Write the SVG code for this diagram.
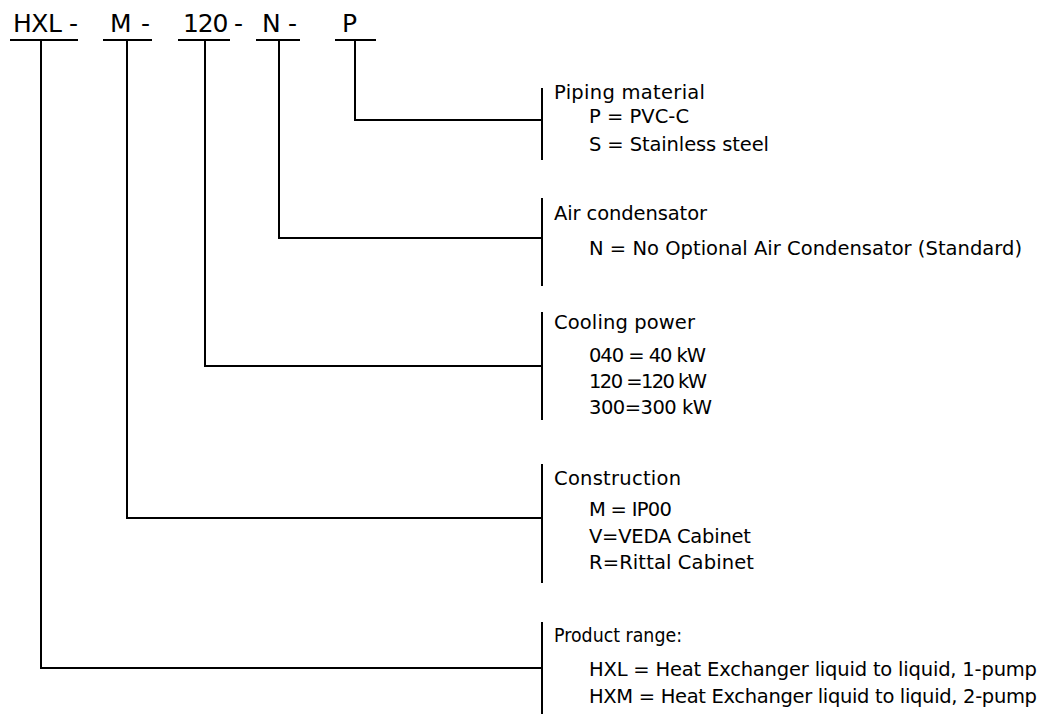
<svg xmlns="http://www.w3.org/2000/svg" width="1053" height="716" viewBox="0 0 1053 716">
<style>
.ln{stroke:#000;stroke-width:2;fill:none;stroke-linecap:butt}
.hd{font-family:"DejaVu Sans","Liberation Sans",sans-serif;font-size:25px;fill:#000}
.tx{font-family:"DejaVu Sans","Liberation Sans",sans-serif;font-size:19.5px;fill:#000}
</style>
<rect width="1053" height="716" fill="#fff"/>
<g id="code-hxl"><text class="hd" x="13" y="32" textLength="65">HXL -</text><line class="ln" x1="10" y1="40" x2="78" y2="40"/></g>
<g id="code-m"><text class="hd" x="110" y="32" textLength="40">M -</text><line class="ln" x1="103" y1="40" x2="152" y2="40"/></g>
<g id="code-120"><text class="hd" x="183" y="32" textLength="60">120 -</text><line class="ln" x1="178" y1="40" x2="230" y2="40"/></g>
<g id="code-n"><text class="hd" x="262" y="32" textLength="35">N -</text><line class="ln" x1="256" y1="40" x2="300" y2="40"/></g>
<g id="code-p"><text class="hd" x="342" y="32">P</text><line class="ln" x1="335" y1="40" x2="376" y2="40"/></g>
<g id="connectors">
<polyline class="ln" points="355,40 355,120 542,120"/>
<polyline class="ln" points="279,40 279,238 542,238"/>
<polyline class="ln" points="205,40 205,366 542,366"/>
<polyline class="ln" points="127,40 127,518 542,518"/>
<polyline class="ln" points="41,40 41,668 542,668"/>
</g>
<g id="piping">
<line class="ln" x1="542" y1="88" x2="542" y2="160"/>
<text class="tx" x="554" y="99" textLength="151">Piping material</text>
<text class="tx" x="589" y="123" textLength="100">P = PVC-C</text>
<text class="tx" x="589" y="151" textLength="180">S = Stainless steel</text>
</g>
<g id="air">
<line class="ln" x1="542" y1="198" x2="542" y2="286"/>
<text class="tx" x="554" y="220" textLength="153">Air condensator</text>
<text class="tx" x="589" y="255" textLength="433">N = No Optional Air Condensator (Standard)</text>
</g>
<g id="cooling">
<line class="ln" x1="542" y1="312" x2="542" y2="420"/>
<text class="tx" x="554" y="329" textLength="141">Cooling power</text>
<text class="tx" x="589" y="362" textLength="117">040 = 40 kW</text>
<text class="tx" x="589" y="388" textLength="118">120 =120 kW</text>
<text class="tx" x="589" y="414" textLength="123">300=300 kW</text>
</g>
<g id="construction">
<line class="ln" x1="542" y1="464" x2="542" y2="583"/>
<text class="tx" x="554" y="485" textLength="127">Construction</text>
<text class="tx" x="589" y="516" textLength="83">M = IP00</text>
<text class="tx" x="589" y="543" textLength="162">V=VEDA Cabinet</text>
<text class="tx" x="589" y="569" textLength="165">R=Rittal Cabinet</text>
</g>
<g id="product">
<line class="ln" x1="542" y1="622" x2="542" y2="714"/>
<text class="tx" x="554" y="642" textLength="128" lengthAdjust="spacingAndGlyphs">Product range:</text>
<text class="tx" x="589" y="676" textLength="448">HXL = Heat Exchanger liquid to liquid, 1-pump</text>
<text class="tx" x="589" y="703" textLength="448">HXM = Heat Exchanger liquid to liquid, 2-pump</text>
</g>
</svg>
